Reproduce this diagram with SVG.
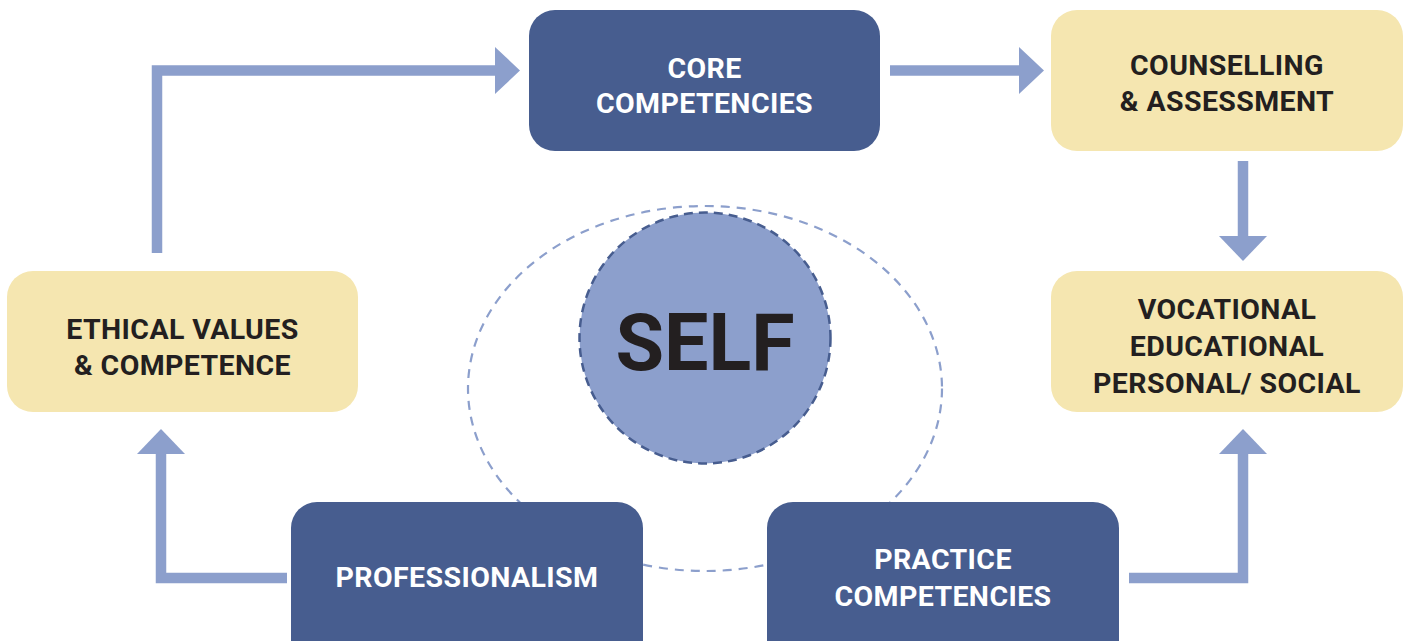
<svg xmlns="http://www.w3.org/2000/svg" width="1407" height="641" viewBox="0 0 1407 641">
<style>
.dark{fill:#475D8F}
.light{fill:#F5E6B0}
.t{font-family:Roboto,"Liberation Sans",sans-serif;font-weight:700;font-size:28.5px;letter-spacing:0.4px;text-anchor:middle}
.tw{fill:#FFFFFF}
.tb{fill:#231F20}
.arr{fill:none;stroke:#8C9FCC;stroke-width:10.5}
.head{fill:#8C9FCC}
</style>
<rect width="1407" height="641" fill="#FFFFFF"/>
<g id="ring">
<ellipse cx="705" cy="388.5" rx="237" ry="182.5" fill="none" stroke="#8C9FCC" stroke-width="2.2" stroke-dasharray="9 7"/>
</g>
<g id="connectors">
<polyline class="arr" points="157,253 157,70.5 496,70.5"/>
<polygon class="head" points="495,47 520,70.5 495,94"/>
<line class="arr" x1="890" y1="70.5" x2="1020" y2="70.5"/>
<polygon class="head" points="1019,47 1044,70.5 1019,94"/>
<line class="arr" x1="1243" y1="161" x2="1243" y2="237"/>
<polygon class="head" points="1219,236 1243,261 1267,236"/>
<polyline class="arr" points="287,578 161,578 161,453"/>
<polygon class="head" points="137,454 161,429 185,454"/>
<polyline class="arr" points="1129,578 1243,578 1243,453"/>
<polygon class="head" points="1219,454 1243,429 1267,454"/>
</g>
<g id="self">
<circle cx="705" cy="338" r="125.5" fill="#8C9FCC" stroke="#475D8F" stroke-width="2.5" stroke-dasharray="9 6"/>
<text x="705" y="370" font-family="Roboto,'Liberation Sans',sans-serif" font-weight="700" font-size="79" text-anchor="middle" fill="#231F20">SELF</text>
</g>
<g id="core">
<rect class="dark" x="529" y="10" width="351" height="141" rx="26"/>
<text class="t tw" x="704.5" y="78">CORE</text>
<text class="t tw" x="704.5" y="113">COMPETENCIES</text>
</g>
<g id="counselling">
<rect class="light" x="1051" y="10" width="352" height="141" rx="26"/>
<text class="t tb" x="1227" y="75">COUNSELLING</text>
<text class="t tb" x="1227" y="111">&amp; ASSESSMENT</text>
</g>
<g id="vocational">
<rect class="light" x="1051" y="271" width="352" height="141" rx="26"/>
<text class="t tb" x="1227" y="319">VOCATIONAL</text>
<text class="t tb" x="1227" y="356">EDUCATIONAL</text>
<text class="t tb" x="1227" y="393">PERSONAL/ SOCIAL</text>
</g>
<g id="ethical">
<rect class="light" x="7" y="271" width="351" height="141" rx="26"/>
<text class="t tb" x="182.5" y="339">ETHICAL VALUES</text>
<text class="t tb" x="182.5" y="375">&amp; COMPETENCE</text>
</g>
<g id="professionalism">
<rect class="dark" x="291" y="502" width="352" height="170" rx="26"/>
<text class="t tw" x="467" y="587">PROFESSIONALISM</text>
</g>
<g id="practice">
<rect class="dark" x="767" y="502" width="352" height="170" rx="26"/>
<text class="t tw" x="943" y="569">PRACTICE</text>
<text class="t tw" x="943" y="606">COMPETENCIES</text>
</g>
</svg>
